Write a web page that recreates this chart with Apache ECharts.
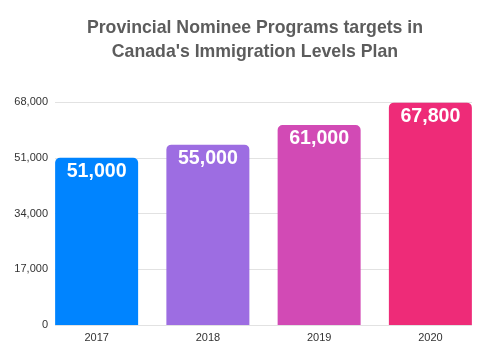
<!DOCTYPE html>
<html><head><meta charset="utf-8">
<script src="https://cdn.jsdelivr.net/npm/echarts@6/dist/echarts.min.js"></script>
<style>html,body{margin:0;padding:0;background:#fff}#c{width:500px;height:350px}</style>
</head><body><div id="c"></div>
<script>
var categories = ['2017', '2018', '2019', '2020'];
var values = [51000, 55000, 61000, 67800];
var barColors = ['#0084FF', '#9D6DE2', '#D24AB5', '#EE2B78'];
var yTicks = [0, 17000, 34000, 51000, 68000];

var chart = echarts.init(document.getElementById('c'), null, {renderer: 'canvas'});
var fmt = function (v) { return v.toLocaleString('en-US'); };
chart.setOption({
  animation: false,
  backgroundColor: '#fff',
  title: {
    text: 'Provincial Nominee Programs targets in\nCanada\'s Immigration Levels Plan',
    left: 250, top: 11, textAlign: 'center',
    textStyle: {fontFamily: 'Liberation Sans', fontWeight: 'bold', fontSize: 17.7, lineHeight: 24, color: '#5c5c5c'}
  },
  grid: [
    {left: 55, right: 28, top: 102, bottom: 25},
    {left: 41, right: 14, top: 102, bottom: 25}
  ],
  xAxis: [
    {gridIndex: 0, type: 'category', data: categories, show: false},
    {gridIndex: 1, type: 'category', data: categories,
     axisLine: {show: false}, axisTick: {show: false},
     axisLabel: {fontFamily: 'Liberation Sans', fontSize: 11, color: '#333', margin: 7}}
  ],
  yAxis: [
    {gridIndex: 0, type: 'value', min: yTicks[0], max: yTicks[yTicks.length - 1], interval: 17000,
     axisLine: {show: false}, axisTick: {show: false},
     axisLabel: {fontFamily: 'Liberation Sans', fontSize: 11, color: '#333', margin: 7, formatter: fmt},
     splitLine: {lineStyle: {color: '#e2e2e2', width: 1}}},
    {gridIndex: 1, type: 'value', min: yTicks[0], max: yTicks[yTicks.length - 1], interval: 17000, show: false,
     splitLine: {show: false}}
  ],
  series: [{
    type: 'bar', xAxisIndex: 1, yAxisIndex: 1,
    data: values.map(function (v, i) { return {value: v, itemStyle: {color: barColors[i]}}; }),
    barWidth: 83,
    itemStyle: {borderRadius: [5, 5, 0, 0]},
    label: {show: true, position: 'insideTop', distance: 4, formatter: function (p) { return fmt(p.value); },
      fontFamily: 'Liberation Sans', fontWeight: 'bold', fontSize: 19.6, color: '#fff'}
  }]
});
</script></body></html>
